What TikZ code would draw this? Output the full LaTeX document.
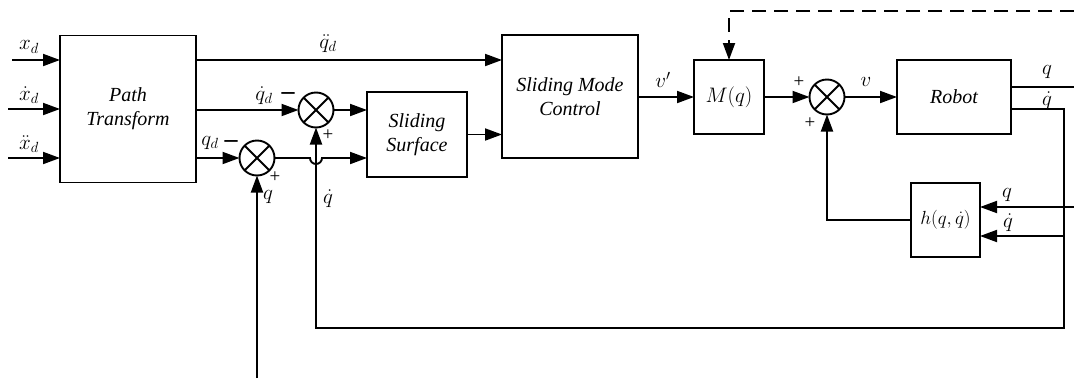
\documentclass[tikz,border=0pt]{standalone}
\usepackage{fix-cm}
\usepackage{fontspec}
\setmainfont{Liberation Serif}
\usetikzlibrary{arrows.meta,calc}
\begin{document}
\begin{tikzpicture}[x=1pt,y=-1pt,
  line width=1.9pt,
  arr/.style={-{Triangle[length=17pt,width=12pt]}},
  blk/.style={draw, inner sep=0pt, outer sep=0pt, font=\fontsize{20}{24}\selectfont\itshape, align=center},
  sumnode/.style={draw, circle, minimum size=35pt, inner sep=0pt, outer sep=0pt,
    path picture={\draw (path picture bounding box.north west)--(path picture bounding box.south east)
      (path picture bounding box.north east)--(path picture bounding box.south west);}},
  lbl/.style={font=\fontsize{21}{24}\selectfont, inner sep=0pt},
  sgn/.style={font=\fontsize{19}{20}\selectfont, inner sep=0pt},
  mns/.style={font=\fontsize{26}{26}\selectfont\bfseries, inner sep=0pt}]
\useasboundingbox (0,0) rectangle (1074,378);

% blocks
\node[blk, minimum width=136pt, minimum height=147pt] (pt) at (128,109) {Path\\Transform};
\node[blk, minimum width=100pt, minimum height=85pt] (ss) at (417,134.5) {Sliding\\Surface};
\node[blk, minimum width=136pt, minimum height=123pt] (smc) at (570,96.5) {Sliding Mode\\Control};
\node[blk, minimum width=70pt, minimum height=74pt, font=\fontsize{21}{24}\selectfont] (M) at (729,97) {$M(q)$};
\node[blk, minimum width=114pt, minimum height=74pt] (robot) at (954,97) {Robot};
\node[blk, minimum width=69pt, minimum height=74pt, font=\fontsize{19}{24}\selectfont] (h) at (945.5,220) {$h(q,\dot q)$};

% summing junctions
\node[sumnode] (s1) at (316,110) {};
\node[sumnode] (s2) at (257,158) {};
\node[sumnode] (s3) at (827,97) {};

% free ends
\coordinate (xin) at (12,60);
\coordinate (xdin) at (8,109);
\coordinate (xddin) at (8,158);
\coordinate (qin) at (257,378);
\coordinate (qout) at (1074,87);
\coordinate (qret) at (1074,207);
\coordinate (dashend) at (1074,11);
\coordinate (fbr) at (1064,109);
\coordinate (fbb) at (1064,328);

% inputs
\draw[arr] (xin) -- (xin -| pt.west);
\draw[arr] (xdin) -- (xdin -| pt.west);
\draw[arr] (xddin) -- (xddin -| pt.west);
\node[lbl] at (29,47) {$x_d$};
\node[lbl] at (29,95) {$\dot x_d$};
\node[lbl] at (29,144) {$\ddot x_d$};

% path transform outputs
\draw[arr] (pt.east |- xin) -- (smc.west |- xin);
\node[lbl] at (328,44) {$\ddot q_d$};
\draw[arr] (pt.east |- s1) -- (s1.west);
\node[lbl] at (264,96) {$\dot q_d$};
\node[mns] at (288,96) {--};
\draw[arr] (pt.east |- s2) -- (s2.west);
\node[lbl] at (210,143) {$q_d$};
\node[mns] at (231,144) {--};

% summers to sliding surface
\draw[arr] (s1.east) -- (s1 -| ss.west);
\draw[arr] (s2.east) -- ($(s2 -| s1)+(-6,0)$) arc[start angle=180, end angle=0, radius=6] -- (s2 -| ss.west);
\node[sgn] at (328,135) {+};
\node[sgn] at (275,177) {+};

% feedback q into s2
\draw[arr] (qin) -- (s2.south);
\node[lbl] at (268,197) {$q$};

% sliding surface to SMC
\draw[arr] (ss.east) -- (ss.east -| smc.west);

% SMC to M
\draw[arr] (M.west -| smc.east) -- (M.west);
\node[lbl] at (663,80) {$v'$};

% M to s3 to robot
\draw[arr] (M.east) -- (s3.west);
\draw[arr] (s3.east) -- (robot.west);
\node[sgn] at (799,82) {+};
\node[sgn] at (810,123) {+};
\node[lbl] at (866,82) {$v$};

% robot outputs
\draw (qout -| robot.east) -- (qout);
\node[lbl] at (1047,72) {$q$};
\draw (fbr -| robot.east) -- (fbr) -- (fbb) -- (fbb -| s1) [arr]-- (s1.south);
\node[lbl] at (1047,101) {$\dot q$};
\node[lbl] at (328,199) {$\dot q$};

% inputs to h
\draw[arr] (qret) -- (qret -| h.east);
\node[lbl] at (1007,195) {$q$};
\draw[arr] (fbr |- 0,236) -- (h.east |- 0,236);
\node[lbl] at (1008,223) {$\dot q$};

% h output
\draw[arr] (h.west) -| (s3.south);

% dashed
\draw[arr, dash pattern=on 14pt off 8pt] (dashend) -- (dashend -| M) -- (M.north);
\end{tikzpicture}
\end{document}
